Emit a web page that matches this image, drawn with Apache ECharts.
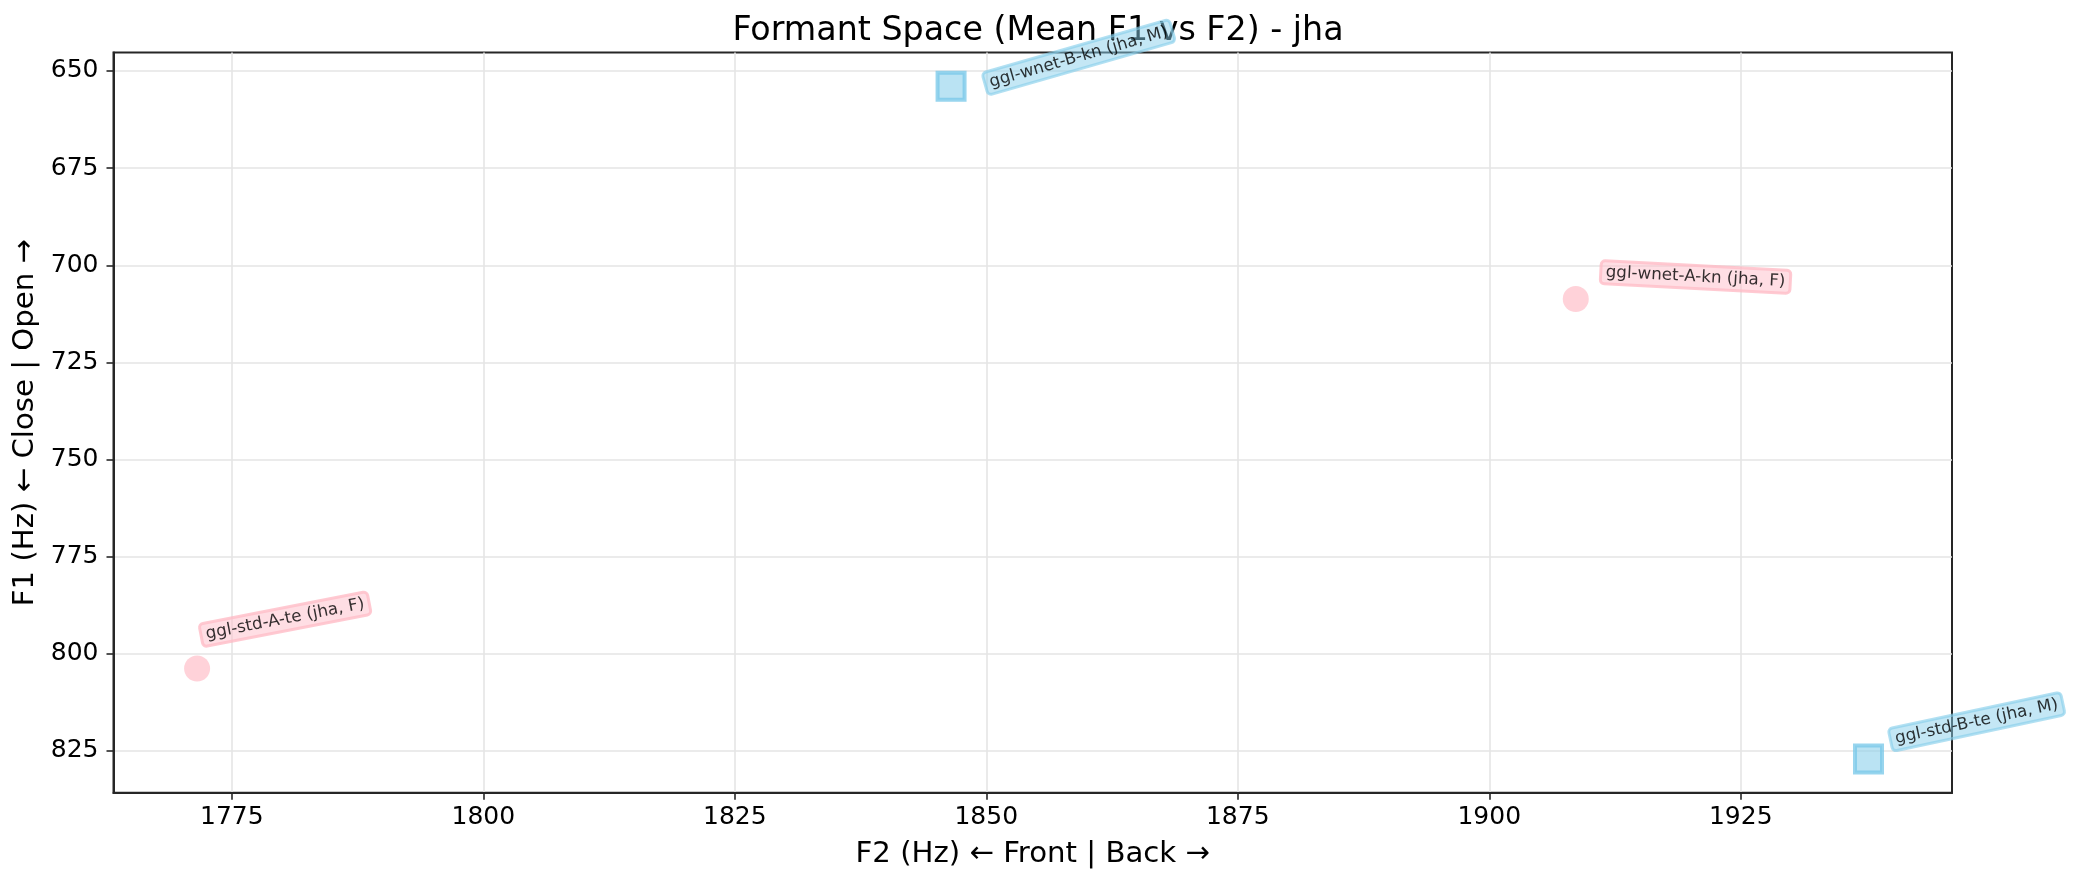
<!DOCTYPE html>
<html>
<head>
<meta charset="utf-8">
<script src="https://cdn.jsdelivr.net/npm/echarts@6/dist/echarts.min.js"></script>
<style>
html,body{margin:0;padding:0;background:#fff;}
#chart{width:2073px;height:883px;}
</style>
</head>
<body>
<div id="chart"></div>
<script>
// ---- data ----
const labels = ["ggl-wnet-B-kn (jha, M)", "ggl-wnet-A-kn (jha, F)", "ggl-std-A-te (jha, F)", "ggl-std-B-te (jha, M)"];
const genders = ["M", "F", "F", "M"];
const f2Values = [1846.5, 1908.6, 1771.55, 1937.7];
const f1Values = [653.9, 708.7, 803.8, 827.1];
const xTicks = [1775, 1800, 1825, 1850, 1875, 1900, 1925];
const yTicks = [650, 675, 700, 725, 750, 775, 800, 825];

// ---- label styling (pixel displacement of label box left-middle from marker centre, rotation) ----
const labelStyle = [
  {dx: 34, dy: -2, rot: 16},
  {dx: 25, dy: -27, rot: -3},
  {dx: 4, dy: -33, rot: 11},
  {dx: 22, dy: -19, rot: 12}
];

const FONT = 'DejaVu Sans';
const chart = echarts.init(document.getElementById('chart'), null, {renderer: 'canvas'});

function buildSeries(g) {
  const data = [];
  for (let i = 0; i < labels.length; i++) {
    if (genders[i] !== g) continue;
    data.push({value: [f2Values[i], f1Values[i]], name: labels[i], idx: i});
  }
  const isM = g === 'M';
  return {
    type: 'scatter',
    z: 10,
    data: data,
    symbol: isM ? 'rect' : 'circle',
    symbolSize: isM ? 27 : 26,
    itemStyle: isM
      ? {color: 'rgba(135,206,235,0.72)', borderColor: 'rgba(120,200,232,0.95)', borderWidth: 4}
      : {color: 'rgba(255,192,203,0.9)'},
    label: {
      show: true,
      formatter: p => p.name,
      fontFamily: FONT,
      fontSize: 16.7,
      color: '#000',
      backgroundColor: isM ? 'rgba(135,206,235,0.62)' : 'rgba(255,192,203,0.65)',
      borderColor: isM ? 'rgba(135,206,235,0.8)' : 'rgba(255,182,193,0.9)',
      borderWidth: 1.5,
      borderRadius: 4,
      padding: [3, 5, 3, 5]
    },
    labelLayout: function (params) {
      const d = data[params.dataIndex];
      const s = labelStyle[d.idx];
      const cx = params.rect.x + params.rect.width / 2;
      const cy = params.rect.y + params.rect.height / 2;
      return {x: cx + s.dx, y: cy + s.dy, rotate: s.rot, align: 'left', verticalAlign: 'middle'};
    }
  };
}

const option = {
  backgroundColor: '#fff',
  animation: false,
  title: {
    text: 'Formant Space (Mean F1 vs F2) - jha',
    left: 1033,
    textAlign: 'center',
    top: 10,
    textStyle: {fontFamily: FONT, fontSize: 33.3, fontWeight: 'normal', color: '#000'}
  },
  grid: {
    left: 113.5, right: 121, top: 52.5, bottom: 90.3,
    show: true, borderColor: '#262626', borderWidth: 2, backgroundColor: 'transparent'
  },
  xAxis: {
    type: 'value',
    min: 1763.24,
    max: 1946.0,
    name: 'F2 (Hz) \u2190 Front | Back \u2192',
    nameLocation: 'middle',
    nameGap: 47,
    nameTextStyle: {fontFamily: FONT, fontSize: 29.2, color: '#000'},
    axisLine: {show: true, lineStyle: {color: '#262626', width: 2}},
    axisTick: {show: true, length: 7, lineStyle: {color: '#262626', width: 1.6}, customValues: xTicks},
    axisLabel: {fontFamily: FONT, fontSize: 25, color: '#000', margin: 12, customValues: xTicks, formatter: v => String(v)},
    splitLine: {show: true, lineStyle: {color: '#e5e5e5', width: 1.6}}
  },
  yAxis: {
    type: 'value',
    inverse: true,
    min: 645.24,
    max: 835.76,
    name: 'F1 (Hz) \u2190 Close | Open \u2192',
    nameLocation: 'middle',
    nameGap: 72,
    nameTextStyle: {fontFamily: FONT, fontSize: 29.2, color: '#000'},
    axisLine: {show: true, lineStyle: {color: '#262626', width: 2}},
    axisTick: {show: true, length: 7, lineStyle: {color: '#262626', width: 1.6}, customValues: yTicks},
    axisLabel: {fontFamily: FONT, fontSize: 25, color: '#000', margin: 15, customValues: yTicks, formatter: v => String(v)},
    splitLine: {show: true, lineStyle: {color: '#e5e5e5', width: 1.6}}
  },
  series: [buildSeries('F'), buildSeries('M')]
};
chart.setOption(option);
</script>
</body>
</html>
